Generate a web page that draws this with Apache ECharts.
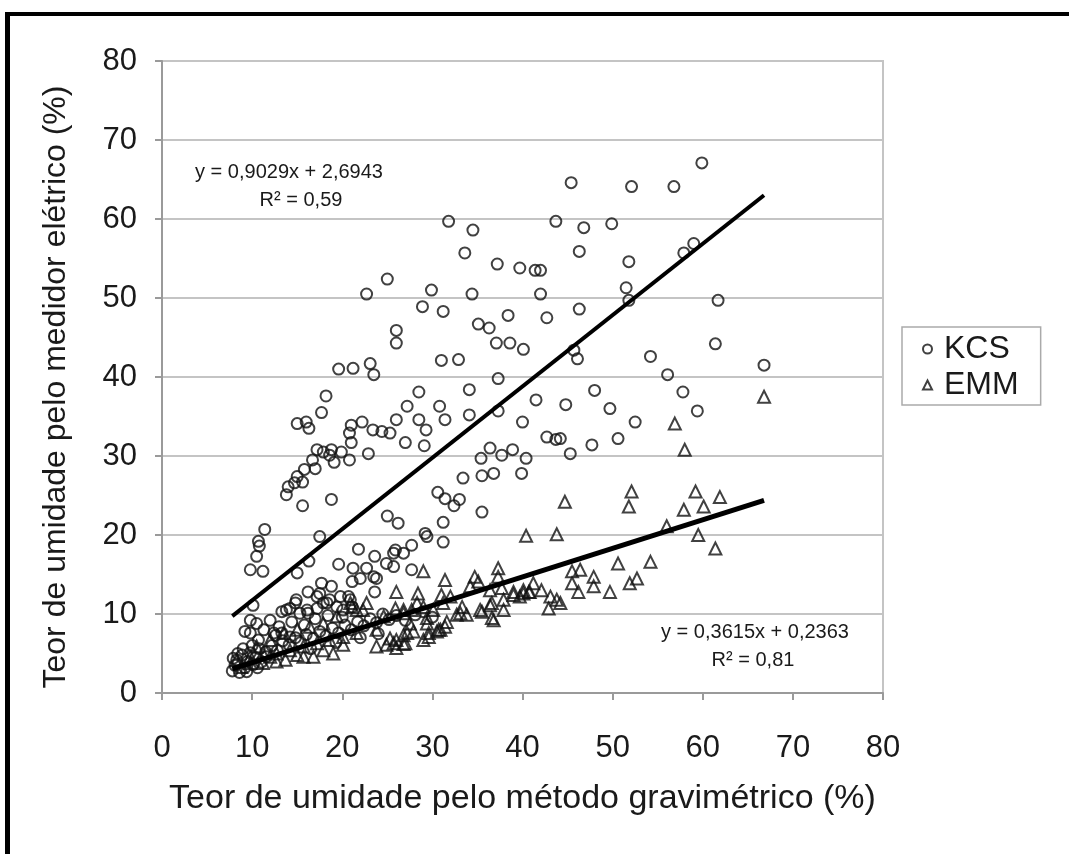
<!DOCTYPE html>
<html>
<head>
<meta charset="utf-8">
<script src="https://cdn.jsdelivr.net/npm/echarts@6/dist/echarts.min.js"></script>
<style>
  html, body { margin: 0; padding: 0; background: #fff; }
  #chart { width: 1069px; height: 854px; }
</style>
</head>
<body>
<div id="chart"></div>
<script>
// Moisture content: electric meter readings vs. gravimetric method (%)
const seriesNames = ['KCS', 'EMM'];

const kcsPoints = [
  [31.8,59.7],[34.5,58.6],[33.6,55.7],[37.2,54.3],[39.7,53.8],[25.0,52.4],[22.7,50.5],[29.9,51.0],
  [34.4,50.5],[28.9,48.9],[31.2,48.3],[38.4,47.8],[26.0,45.9],[26.0,44.3],[35.1,46.7],[36.3,46.2],
  [37.1,44.3],[38.6,44.3],[40.1,43.5],[31.0,42.1],[32.9,42.2],[19.6,41.0],[21.2,41.1],[23.1,41.7],
  [23.5,40.3],[37.3,39.8],
  [59.9,67.1],[45.4,64.6],[52.1,64.1],[56.8,64.1],[43.7,59.7],[46.8,58.9],[49.9,59.4],[46.3,55.9],
  [59.0,56.9],[57.9,55.7],[51.8,54.6],[41.4,53.5],[42.0,53.5],[42.0,50.5],[51.5,51.3],[51.8,49.7],
  [61.7,49.7],[42.7,47.5],[46.3,48.6],[61.4,44.2],[45.7,43.4],[46.1,42.3],[54.2,42.6],[56.1,40.3],
  [66.8,41.5],
  [18.2,37.6],[28.5,38.1],[34.1,38.4],[17.7,35.5],[27.2,36.3],[30.8,36.3],[31.4,34.6],[34.1,35.2],
  [37.3,35.7],[40.0,34.3],[15.0,34.1],[16.0,34.3],[16.3,33.5],[26.0,34.6],[28.5,34.6],[29.3,33.3],
  [21.0,33.9],[22.2,34.3],[20.8,32.9],[21.0,31.7],[23.4,33.3],[24.4,33.1],[25.3,32.9],[27.0,31.7],
  [29.1,31.3],[17.2,30.8],[17.9,30.5],[18.8,30.8],[19.9,30.5],[20.8,29.5],[19.1,29.2],[18.6,30.1],
  [16.7,29.5],[17.0,28.4],[15.8,28.3],[15.0,27.4],[14.0,26.1],[13.8,25.1],[15.6,26.7],[14.7,26.6],
  [22.9,30.3],[15.6,23.7],[18.8,24.5],
  [35.4,29.7],[36.4,31.0],[37.7,30.1],[38.9,30.8],[40.4,29.7],[35.5,27.5],[36.8,27.8],[39.9,27.8],
  [33.4,27.2],[30.6,25.4],[31.4,24.6],[32.4,23.7],[33.0,24.5],[35.5,22.9],[25.0,22.4],[26.2,21.5],
  [31.2,21.6],[31.2,19.1],[29.2,20.2],[29.4,19.8],
  [48.0,38.3],[57.8,38.1],[44.8,36.5],[49.7,36.0],[59.4,35.7],[52.5,34.3],[44.2,32.2],[50.6,32.2],
  [47.7,31.4],[45.3,30.3],[41.5,37.1],[42.7,32.4],[43.7,32.1],
  [11.4,20.7],[10.7,19.2],[10.8,18.6],[10.5,17.3],[9.8,15.6],[11.2,15.4],[17.5,19.8],[21.8,18.2],
  [16.3,16.7],[19.6,16.3],[15.0,15.2],
  [23.6,17.3],[22.7,15.8],[21.2,15.8],[22.0,14.5],[23.5,14.7],[23.6,12.8],[24.9,16.4],[25.7,17.7],
  [25.7,16.0],[27.7,18.7],[26.8,17.7],[25.9,18.1],[27.7,15.6],[23.8,14.5],[21.1,14.1],
  [17.7,13.9],[18.8,13.5],[19.8,12.2],[17.5,12.6],[16.2,12.8],[18.3,11.4],[17.2,10.7],[19.4,10.9],
  [14.8,11.4],[14.2,10.7],[15.3,10.1],[13.3,10.3],[16.2,10.1],[21.1,10.9],[20.7,12.2],
  [9.8,9.2],[10.5,8.8],[9.2,7.8],[9.8,7.6],[10.7,6.7],[10.1,11.1],
  [12.4,7.6],[13.3,7.6],[14.2,7.1],[14.9,11.8],[16.1,10.5],[17.2,12.2],[17.9,11.4],[18.6,11.8],
  [20.1,10.5],[20.9,11.8],[13.8,10.5],
  [11.5,5.2],[12.2,6.0],[12.8,5.4],[13.4,6.6],[14.1,6.1],[14.8,7.0],[15.4,6.4],[16.0,7.4],
  [16.8,6.9],[17.5,7.8],[18.2,7.2],[18.9,8.2],[19.6,7.6],[20.3,8.6],[21.0,8.0],[21.7,9.0],
  [22.4,8.5],[23.1,9.4],[23.8,8.9],[24.5,10.0],[25.2,9.3],[26.0,9.8],[27.0,9.2],[28.1,9.9],
  [29.0,10.3],[30.0,9.6],[13.0,8.4],[14.4,9.0],[15.8,8.6],[17.0,9.4],[18.4,9.8],[20.0,9.6],
  [12.0,9.2],[11.3,8.0],[12.6,7.3],[16.5,5.6],[19.3,6.4],[22.0,7.0],[24.0,7.5],
  [7.8,2.8],[8.1,3.5],[8.3,4.2],[8.6,2.6],[8.9,4.8],[9.2,3.2],[9.5,4.0],[9.8,5.1],
  [10.1,3.6],[10.4,4.5],[10.8,5.6],[11.0,3.9],[8.4,5.0],[9.0,5.6],[10.0,6.0],[11.6,4.6],
  [7.9,4.4],[9.4,2.7],[10.6,3.2]
];

const emmPoints = [
  [66.8,37.5],[56.9,34.1],[58.0,30.8],[44.7,24.2],[40.4,19.9],[43.8,20.1],[52.1,25.5],[51.8,23.6],
  [59.2,25.5],[60.1,23.6],[61.9,24.8],[57.9,23.2],[56.0,21.1],[59.5,20.0],[61.4,18.3],[50.6,16.4],
  [54.2,16.6],
  [45.5,15.4],[46.4,15.6],[47.9,14.7],[45.5,13.9],[46.2,12.8],[47.9,13.5],[49.7,12.8],[51.9,13.9],
  [52.7,14.5],[44.2,11.4],[43.8,11.8],[42.9,10.7],[42.1,13.0],[40.7,12.8],[39.7,12.2],[37.9,10.5],
  [41.2,13.9],
  [37.3,15.8],[37.3,14.7],[31.4,14.3],[34.7,14.7],[35.1,14.1],[29.0,15.4],[26.0,12.8],[28.4,12.6],
  [31.0,12.4],[32.0,12.2],[34.2,13.5],[36.4,13.0],[37.7,13.3],[39.0,12.8],[40.1,12.6],[40.8,12.8],
  [43.1,12.2],
  [33.1,10.1],[35.3,10.5],[36.8,9.2],[36.4,11.1],[33.3,10.9],[29.0,10.9],[29.4,9.5],[27.7,10.5],
  [26.8,10.1],[25.9,10.7],[31.6,9.0],[30.7,8.0],[29.6,7.1],[27.9,7.8],[26.8,7.3],[25.7,6.3],
  [26.8,6.2],[26.0,5.7],[21.1,10.9],[22.3,10.5],
  [29.6,7.6],[30.5,7.8],[31.4,8.4],[27.2,7.6],[26.0,6.7],[23.8,5.9],[24.9,6.1],[25.3,6.9],
  [27.0,6.3],[20.1,6.1],[19.0,5.0],[17.9,5.4],[16.8,4.6],[15.7,4.6],[15.0,4.8],[13.7,4.2],
  [12.7,4.0],[12.0,4.6],[11.2,3.8],[9.8,3.8],[8.8,3.3],
  [21.6,10.5],[20.9,11.4],[19.4,9.7],[17.9,8.8],[16.4,8.4],[15.0,8.0],[13.5,7.6],[12.0,6.7],
  [10.5,5.9],[22.7,11.4],[24.6,9.7],[23.8,8.0],[21.6,7.6],[20.1,7.1],[18.6,6.7],[17.2,6.3],
  [15.7,5.9],[14.2,5.4],[12.7,5.0],[11.2,5.0],[9.8,4.6],[8.3,4.2],
  [33.8,9.9],[35.5,10.3],[36.6,9.5],[32.7,9.9],[36.6,11.4],[37.9,11.8],[39.0,12.4],[40.1,13.0],
  [31.2,11.4],[30.1,10.5],[28.3,11.4],[26.8,10.5],[27.5,8.8],[29.4,8.8],[30.9,8.0],[29.0,6.7]
];

// Linear fits as printed on the chart: [slope, intercept], fitted x range
const kcsFit = [0.9029, 2.6943];
const emmFit = [0.3615, 0.2363];
const fitRange = [7.8, 66.8];
const kcsFitText = ['y = 0,9029x + 2,6943', 'R² = 0,59'];
const emmFitText = ['y = 0,3615x + 0,2363', 'R² = 0,81'];

const axisTicks = [0, 10, 20, 30, 40, 50, 60, 70, 80];
const xTitle = 'Teor de umidade pelo método gravimétrico (%)';
const yTitle = 'Teor de umidade pelo medidor elétrico (%)';

function fitLine(f) {
  return fitRange.map(x => [x, f[0] * x + f[1]]);
}

const FONT = '"Liberation Sans", Arial, sans-serif';
const TXT = '#1a1a1a';

const chart = echarts.init(document.getElementById('chart'), null, { renderer: 'canvas' });

const axisCommon = {
  type: 'value',
  min: axisTicks[0],
  max: axisTicks[axisTicks.length - 1],
  interval: 10,
  nameLocation: 'middle',
  axisLabel: { fontFamily: FONT, fontSize: 31, color: TXT },
  splitLine: { show: true, lineStyle: { color: '#c4c4c4', width: 2 } },
  axisLine: { show: true, lineStyle: { color: '#9a9a9a', width: 2 } },
  axisTick: { show: true, length: 7, lineStyle: { color: '#9a9a9a', width: 2 } }
};

function eqText(x, y, txt) {
  return {
    type: 'text', x: x, y: y, z: 10,
    style: { text: txt, fontFamily: FONT, fontSize: 20, fill: TXT,
             align: 'center', verticalAlign: 'middle',
             backgroundColor: '#fff', padding: [3, 6, 3, 6] }
  };
}

chart.setOption({
  backgroundColor: '#ffffff',
  animation: false,
  grid: { left: 162, top: 61, right: 186, bottom: 161, containLabel: false,
          show: true, borderColor: '#c4c4c4', borderWidth: 2 },
  xAxis: Object.assign({}, axisCommon, {
    name: xTitle, nameGap: 89,
    nameTextStyle: { fontFamily: FONT, fontSize: 34, color: TXT },
    axisLabel: Object.assign({}, axisCommon.axisLabel, { margin: 40 }),
    splitLine: { show: false }
  }),
  yAxis: Object.assign({}, axisCommon, {
    axisLabel: Object.assign({}, axisCommon.axisLabel, { margin: 25 })
  }),
  legend: {
    data: seriesNames,
    orient: 'vertical',
    left: 902, top: 327,
    padding: [6, 22, 4, 20],
    itemGap: 4,
    itemWidth: 9, itemHeight: 9,
    borderColor: '#aaaaaa', borderWidth: 1.5,
    textStyle: { fontFamily: FONT, fontSize: 32, color: TXT, padding: [0, 0, 0, 7] }
  },
  series: [
    {
      name: 'KCS', type: 'scatter', symbol: 'circle', symbolSize: 11,
      itemStyle: { color: 'rgba(255,255,255,0)', borderColor: '#111', borderWidth: 2 },
      data: kcsPoints, z: 3
    },
    {
      name: 'EMM', type: 'scatter', symbol: 'triangle', symbolSize: 12,
      itemStyle: { color: 'rgba(255,255,255,0)', borderColor: '#111', borderWidth: 2 },
      data: emmPoints, z: 3
    },
    {
      name: 'KCS fit', type: 'line', data: fitLine(kcsFit), symbol: 'none',
      lineStyle: { color: '#000', width: 4 }, z: 5, silent: true
    },
    {
      name: 'EMM fit', type: 'line', data: fitLine(emmFit), symbol: 'none',
      lineStyle: { color: '#000', width: 5 }, z: 5, silent: true
    }
  ],
  graphic: [
    // left and top edge of the outer frame
    { type: 'rect', shape: { x: 5, y: 12, width: 5, height: 842 }, style: { fill: '#000' } },
    { type: 'rect', shape: { x: 5, y: 12, width: 1064, height: 4 }, style: { fill: '#000' } },
    // vertical axis title
    {
      type: 'text', x: 56, y: 387, rotation: Math.PI / 2,
      style: { text: yTitle, fontFamily: FONT, fontSize: 32, fill: TXT,
               align: 'center', verticalAlign: 'middle' }
    },
    eqText(289, 172, kcsFitText[0]),
    eqText(301, 200, kcsFitText[1]),
    eqText(755, 632, emmFitText[0]),
    eqText(753, 660, emmFitText[1])
  ]
});
</script>
</body>
</html>
